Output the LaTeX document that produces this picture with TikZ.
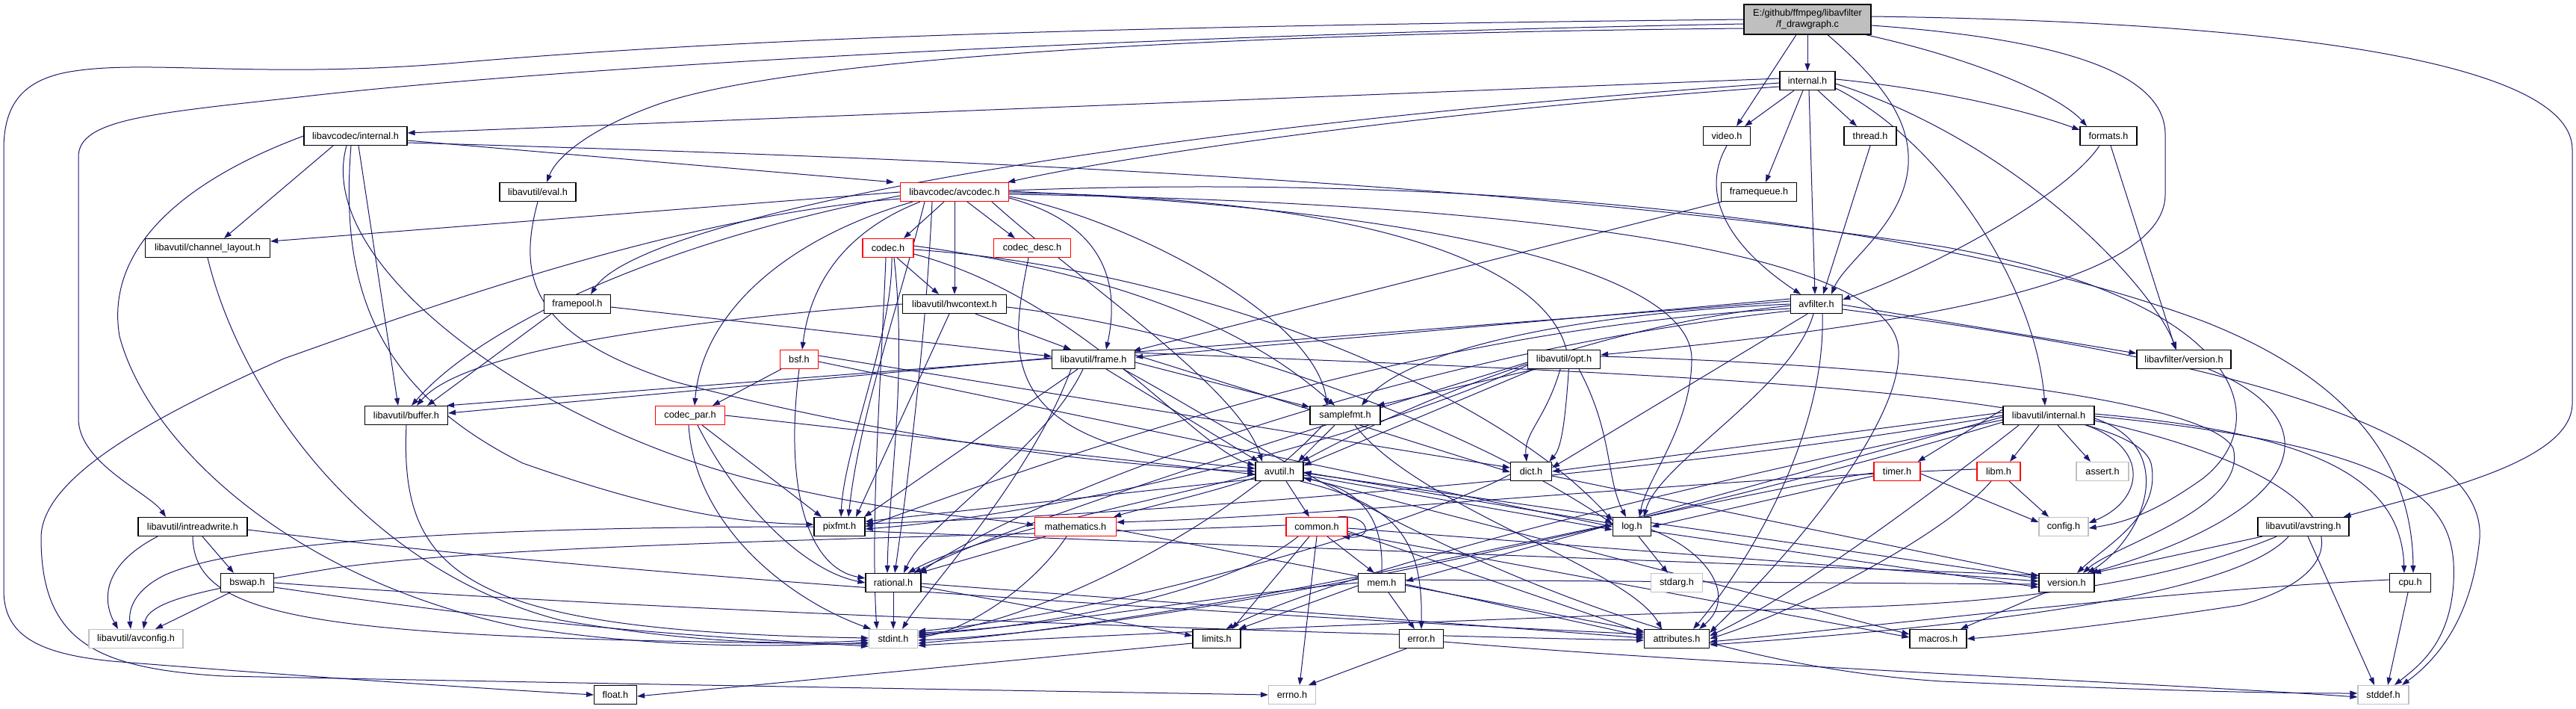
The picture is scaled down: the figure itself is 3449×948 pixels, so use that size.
\documentclass[tikz,border=0pt]{standalone}
\usepackage{fontspec}
\setmainfont{Liberation Sans}
\usetikzlibrary{arrows.meta}
\pgfdeclarelayer{edgelayer}
\pgfsetlayers{edgelayer,main}
\definecolor{edgec}{HTML}{191970}
\definecolor{rootgray}{HTML}{BFBFBF}
\definecolor{sysgray}{HTML}{C0C0C0}
\tikzset{
  nd/.style={draw=black, line width=1.2pt, fill=white, inner sep=0pt, minimum height=25pt, font=\fontsize{12.7pt}{15pt}\selectfont},
  ndred/.style={nd, draw=red},
  ndgray/.style={nd, draw=sysgray},
  e/.style={draw=edgec, line width=1pt, -{Triangle[length=10pt,width=7pt]}}
}
\begin{document}
\begin{tikzpicture}[x=1pt,y=1pt]
\begin{pgfonlayer}{edgelayer}
\path[use as bounding box, fill=white] (0,0) rectangle (3449,-948);
\end{pgfonlayer}
% nodes
\node[nd,fill=rootgray,minimum width=170pt,minimum height=40pt,align=center] (root) at (2420,-26) {E:/github/ffmpeg/libavfilter\\/f\_drawgraph.c};
\node[nd,minimum width=74pt] (ifint) at (2420,-108) {internal.h};
\node[nd,minimum width=138pt] (lacint) at (476,-182) {libavcodec/internal.h};
\node[nd,minimum width=63pt] (video) at (2312,-182) {video.h};
\node[nd,minimum width=70pt] (thread) at (2504,-182) {thread.h};
\node[nd,minimum width=76pt] (formats) at (2823,-182) {formats.h};
\node[nd,minimum width=102pt] (eval) at (720,-257) {libavutil/eval.h};
\node[ndred,minimum width=145pt] (avcodec) at (1278,-257) {libavcodec/avcodec.h};
\node[nd,minimum width=101pt] (fqueue) at (2355,-257) {framequeue.h};
\node[nd,minimum width=167pt] (chl) at (278,-332) {libavutil/channel\_layout.h};
\node[ndred,minimum width=68pt] (codec) at (1189,-332) {codec.h};
\node[ndred,minimum width=103pt] (cdesc) at (1382,-332) {codec\_desc.h};
\node[nd,minimum width=139pt] (hwctx) at (1278,-407) {libavutil/hwcontext.h};
\node[nd,minimum width=89pt] (fpool) at (773,-407) {framepool.h};
\node[nd,minimum width=69pt] (avfilter) at (2432,-407) {avfilter.h};
\node[nd,minimum width=111pt] (frame) at (1464,-481) {libavutil/frame.h};
\node[ndred,minimum width=51pt] (bsf) at (1070,-481) {bsf.h};
\node[nd,minimum width=97pt] (opt) at (2094,-481) {libavutil/opt.h};
\node[nd,minimum width=126pt] (lfver) at (2924,-481) {libavfilter/version.h};
\node[nd,minimum width=111pt] (buffer) at (544,-556) {libavutil/buffer.h};
\node[nd,minimum width=94pt] (sfmt) at (1801,-556) {samplefmt.h};
\node[ndred,minimum width=93pt] (cpar) at (924,-556) {codec\_par.h};
\node[nd,minimum width=122pt] (luint) at (2743,-556) {libavutil/internal.h};
\node[nd,minimum width=64pt] (avutil) at (1713,-631) {avutil.h};
\node[nd,minimum width=55pt] (dict) at (2050,-631) {dict.h};
\node[ndred,minimum width=62pt] (timer) at (2540,-631) {timer.h};
\node[ndred,minimum width=58pt] (libm) at (2676,-631) {libm.h};
\node[ndgray,minimum width=70pt] (assert) at (2815,-631) {assert.h};
\node[nd,minimum width=68pt] (pixfmt) at (1124,-705) {pixfmt.h};
\node[ndred,minimum width=109pt] (math) at (1440,-705) {mathematics.h};
\node[nd,minimum width=51pt] (log) at (2185,-705) {log.h};
\node[ndgray,minimum width=66pt] (config) at (2763,-705) {config.h};
\node[nd,minimum width=146pt] (irw) at (258,-705) {libavutil/intreadwrite.h};
\node[ndred,minimum width=82pt] (common) at (1763,-705) {common.h};
\node[nd,minimum width=122pt] (avstring) at (3084,-705) {libavutil/avstring.h};
\node[nd,minimum width=71pt] (bswap) at (331,-780) {bswap.h};
\node[nd,minimum width=74pt] (rational) at (1196,-780) {rational.h};
\node[nd,minimum width=63pt] (mem) at (1850,-780) {mem.h};
\node[ndgray,minimum width=69pt] (stdarg) at (2245,-780) {stdarg.h};
\node[nd,minimum width=74pt] (version) at (2767,-780) {version.h};
\node[nd,minimum width=55pt] (cpu) at (3227,-780) {cpu.h};
\node[ndgray,minimum width=126pt] (avconfig) at (182,-855) {libavutil/avconfig.h};
\node[ndgray,minimum width=65pt] (stdint) at (1196,-855) {stdint.h};
\node[nd,minimum width=64pt] (limits) at (1629,-855) {limits.h};
\node[nd,minimum width=59pt] (error) at (1903,-855) {error.h};
\node[nd,minimum width=87pt] (attr) at (2245,-855) {attributes.h};
\node[nd,minimum width=76pt] (macros) at (2595,-855) {macros.h};
\node[nd,minimum width=57pt] (float) at (824,-930) {float.h};
\node[ndgray,minimum width=63pt] (errno) at (1730,-930) {errno.h};
\node[ndgray,minimum width=68pt] (stddef) at (3191,-930) {stddef.h};
\begin{pgfonlayer}{edgelayer}
% root
\draw[e] (root.west) .. controls (1500,-35) and (1000,-50) .. (600,-85) .. controls (350,-105) and (200,-80) .. (100,-95) .. controls (30,-105) and (5,-140) .. (5,-200) -- (5,-790) .. controls (5,-850) and (50,-875) .. (150,-885) .. controls (400,-905) and (650,-922) .. (float.west);
\draw[e] ([yshift=-6pt]root.west) .. controls (1400,-50) and (700,-95) .. (400,-130) .. controls (200,-152) and (105,-160) .. (105,-210) -- (105,-560) .. controls (105,-620) and (200,-660) .. ([xshift=-36pt]irw.north);
\draw[e] ([yshift=-12pt]root.west) .. controls (1600,-45) and (1050,-80) .. (880,-140) .. controls (790,-172) and (745,-210) .. ([xshift=12pt]eval.north);
\draw[e] ([xshift=-15pt]root.south) -- ([xshift=13pt]video.north);
\draw[e] (root) -- (ifint);
\draw[e] ([xshift=27pt]root.south) .. controls (2520,-110) and (2558,-160) .. (2555,-220) .. controls (2550,-300) and (2470,-350) .. ([xshift=20pt]avfilter.north);
\draw[e] ([xshift=78pt]root.south) .. controls (2650,-80) and (2760,-130) .. ([xshift=-29pt]formats.north);
\draw[e] ([yshift=-8pt]root.east) .. controls (2800,-55) and (2899,-110) .. (2899,-180) -- (2899,-260) .. controls (2899,-390) and (2500,-440) .. ([yshift=6pt]opt.east);
\draw[e] ([yshift=4pt]root.east) .. controls (3100,-30) and (3444,-90) .. (3444,-200) -- (3444,-540) .. controls (3444,-620) and (3250,-660) .. ([xshift=-8pt]avstring.north east);
% internal.h
\draw[e] ([xshift=-18pt]ifint.south) -- ([xshift=24pt]video.north);
\draw[e] ([xshift=14pt]ifint.south) -- ([xshift=-18pt]thread.north);
\draw[e] ([xshift=-6pt]ifint.south) -- ([xshift=9pt]fqueue.north);
\draw[e] ([xshift=2pt]ifint.south) -- ([xshift=-2pt]avfilter.north);
\draw[e] ([yshift=2pt]ifint.east) .. controls (2600,-120) and (2720,-150) .. ([yshift=8pt]formats.west);
\draw[e] ([yshift=-4pt]ifint.east) .. controls (2700,-190) and (2880,-380) .. ([xshift=-10pt]lfver.north);
\draw[e] ([yshift=-10pt]ifint.east) .. controls (2600,-190) and (2725,-380) .. ([xshift=-5pt]luint.north);
\draw[e] ([yshift=3pt]ifint.west) -- ([yshift=4pt]lacint.east);
\draw[e] ([yshift=-8pt]ifint.west) .. controls (1900,-150) and (1500,-210) .. ([xshift=-2pt]avcodec.north east);
\draw[e] ([yshift=-3pt]ifint.west) .. controls (1400,-180) and (850,-300) .. ([xshift=18pt]fpool.north);
\draw[e] (video.south) .. controls (2280,-250) and (2300,-320) .. ([xshift=-21pt]avfilter.north);
\draw[e] (thread.south) -- ([xshift=9pt]avfilter.north);
\draw[e] ([xshift=-12pt]formats.south) .. controls (2760,-270) and (2560,-370) .. ([yshift=6pt]avfilter.east);
\draw[e] ([xshift=3pt]formats.south) -- ([xshift=-11pt]lfver.north);
\draw[e] ([xshift=-50pt]fqueue.south) -- ([xshift=-3pt,yshift=-2pt]frame.north east);
% libavcodec/internal.h
\draw[e] ([xshift=-30pt]lacint.south) -- ([xshift=22pt]chl.north);
\draw[e] ([xshift=4pt]lacint.south) -- ([xshift=-11pt]buffer.north);
\draw[e] ([xshift=-12pt]lacint.south) .. controls (420,-350) and (700,-560) .. (1000,-640) .. controls (1200,-690) and (1300,-690) .. ([yshift=2pt]math.west);
\draw[e] ([xshift=-6pt]lacint.south) .. controls (455,-380) and (500,-520) .. (700,-620) .. controls (900,-690) and (1000,-700) .. ([yshift=3pt]pixfmt.west);
\draw[e] (lacint.west) .. controls (250,-240) and (140,-330) .. (160,-450) .. controls (200,-600) and (400,-780) .. (700,-840) .. controls (900,-870) and (1050,-865) .. ([yshift=-5pt]stdint.west);
\draw[e] ([yshift=-6pt]lacint.east) -- ([xshift=-8pt]avcodec.north west);
\draw[e] ([yshift=-9pt]lacint.east) .. controls (1200,-210) and (2000,-240) .. (2600,-330) .. controls (3000,-400) and (3050,-560) .. (2950,-640) .. controls (2880,-690) and (2840,-700) .. ([yshift=-2pt]config.east);
% avcodec.h
\draw[e] ([xshift=-14pt]avcodec.south) -- ([xshift=21pt]codec.north);
\draw[e] ([xshift=17pt]avcodec.south) -- ([xshift=-23pt]cdesc.north);
\draw[e] (avcodec.south) -- (hwctx.north);
\draw[e] ([yshift=-8pt]avcodec.east) .. controls (1480,-300) and (1500,-380) .. ([xshift=17pt]frame.north);
\draw[e] ([xshift=-46pt]avcodec.south) .. controls (1130,-310) and (1085,-380) .. ([xshift=4pt]bsf.north);
\draw[e] ([xshift=-56pt]avcodec.south) .. controls (1050,-320) and (940,-420) .. ([xshift=6pt]cpar.north);
\draw[e] ([xshift=-40pt]avcodec.south) .. controls (1200,-420) and (1150,-560) .. ([xshift=12pt]pixfmt.north);
\draw[e] ([xshift=-30pt]avcodec.south) .. controls (1240,-450) and (1215,-650) .. ([xshift=2pt]rational.north);
\draw[e] (avcodec.west) -- ([yshift=9pt]chl.east);
\draw[e] ([yshift=-5pt]avcodec.west) .. controls (900,-320) and (650,-430) .. ([xshift=7pt]buffer.north);
\draw[e] ([yshift=-9pt]avcodec.west) .. controls (900,-290) and (550,-420) .. (380,-480) .. controls (200,-560) and (55,-640) .. (55,-720) .. controls (55,-860) and (130,-895) .. (300,-905) .. controls (800,-915) and (1400,-925) .. (errno.west);
\draw[e] ([yshift=-6pt]avcodec.east) .. controls (1500,-290) and (1760,-420) .. ([xshift=-24pt]sfmt.north);
\draw[e] ([yshift=-3pt]avcodec.east) .. controls (2000,-270) and (2540,-330) .. (2542,-470) .. controls (2545,-560) and (2420,-720) .. ([yshift=8pt]attr.east);
\draw[e] ([yshift=2pt]avcodec.east) .. controls (2000,-230) and (2600,-300) .. (2950,-430) .. controls (3180,-520) and (3230,-650) .. ([xshift=4pt]cpu.north);
\draw[e] ([yshift=-1pt]avcodec.east) .. controls (1900,-265) and (2110,-380) .. (2100,-500) .. controls (2095,-570) and (2090,-600) .. ([xshift=-4pt]dict.north east);
\draw[e] ([yshift=1pt]avcodec.east) .. controls (2000,-285) and (2265,-380) .. (2265,-480) .. controls (2265,-570) and (2205,-640) .. ([xshift=10pt]log.north);
\draw[e] ([xshift=50pt]avcodec.south) .. controls (1450,-380) and (1660,-520) .. ([xshift=-23pt]avutil.north);
% codec.h
\draw[e] ([xshift=12pt]codec.south) -- ([xshift=-21pt]hwctx.north);
\draw[e] ([xshift=-3pt]codec.south) .. controls (1180,-500) and (1165,-700) .. ([xshift=-22pt]stdint.north);
\draw[e] ([yshift=-8pt]codec.east) .. controls (1450,-400) and (1600,-600) .. ([yshift=8pt]avutil.west);
\draw[e] ([yshift=-2pt]codec.east) .. controls (1600,-360) and (2000,-520) .. ([yshift=8pt]log.west);
\draw[e] ([xshift=5pt]codec.south) .. controls (1195,-450) and (1130,-600) .. ([xshift=2pt]pixfmt.north);
\draw[e] ([xshift=8pt]codec.south) .. controls (1215,-500) and (1190,-650) .. ([xshift=-8pt]rational.north);
\draw[e] ([yshift=3pt]codec.east) .. controls (1450,-360) and (1650,-420) .. ([xshift=-14pt]sfmt.north);
\draw[e] ([xshift=-5pt]cdesc.south) .. controls (1350,-480) and (1330,-600) .. ([yshift=4pt]avutil.west);
% hwcontext.h
\draw[e] (hwctx.west) .. controls (900,-430) and (620,-470) .. ([xshift=14pt]buffer.north);
\draw[e] ([xshift=28pt]hwctx.south) -- ([xshift=-30pt]frame.north);
\draw[e] ([yshift=-4pt]hwctx.east) .. controls (1600,-440) and (1950,-560) .. ([yshift=4pt]log.west);
\draw[e] ([xshift=-7pt]hwctx.south) -- ([xshift=22pt]pixfmt.north);
% bsf.h
\draw[e] ([xshift=-24pt]bsf.south) -- ([xshift=30pt]cpar.north);
\draw[e] (bsf.south) .. controls (1050,-650) and (1080,-760) .. ([yshift=6pt]rational.west);
\draw[e] ([yshift=5pt]bsf.east) -- ([yshift=5pt]dict.west);
\draw[e] ([yshift=-3pt]bsf.east) -- (log.west);
% codec_par.h
\draw[e] ([xshift=-2pt]cpar.south) .. controls (930,-700) and (1050,-800) .. ([xshift=-30pt]stdint.north);
\draw[e] ([xshift=10pt]cpar.south) .. controls (990,-680) and (1080,-765) .. (rational.west);
\draw[e] ([xshift=16pt]cpar.south) -- ([xshift=-24pt]pixfmt.north);
\draw[e] (cpar.east) -- ([yshift=-4pt]avutil.west);
% frame.h
\draw[e] ([yshift=2pt]frame.west) -- ([yshift=3pt]buffer.east);
\draw[e] ([xshift=17pt]frame.south) -- ([xshift=-28pt]avutil.north);
\draw[e] ([yshift=6pt]frame.east) -- ([yshift=-1pt]dict.west);
\draw[e] ([xshift=-14pt]frame.south) .. controls (1400,-600) and (1240,-700) .. ([xshift=14pt]rational.north);
\draw[e] ([yshift=-4pt]frame.east) -- ([yshift=-2pt]sfmt.north west);
\draw[e] ([xshift=-21pt]frame.south) -- ([xshift=33pt]pixfmt.north);
\draw[e] ([xshift=40pt]frame.south) .. controls (1700,-600) and (2100,-880) .. (2600,-912) .. controls (2900,-925) and (3050,-928) .. ([yshift=2pt]stddef.west);
\draw[e] ([xshift=-30pt]frame.south) .. controls (1380,-640) and (1240,-790) .. ([xshift=12pt]stdint.north);
\draw[e] ([yshift=9pt]frame.east) .. controls (2200,-500) and (2850,-520) .. (2880,-620) .. controls (2895,-690) and (2820,-730) .. ([xshift=14pt]version.north);
% misc upper
\draw[e] (eval.south) .. controls (690,-380) and (720,-450) .. (900,-510) .. controls (1200,-590) and (1500,-625) .. (avutil.west);
\draw[e] ([xshift=-35pt]fpool.south) -- ([xshift=28pt]buffer.north);
\draw[e] ([yshift=-4pt]fpool.east) -- ([yshift=4pt]frame.west);
\draw[e] (chl.south) .. controls (320,-520) and (480,-760) .. (750,-830) .. controls (950,-865) and (1080,-862) .. ([yshift=-2pt]stdint.west);
\draw[e] (buffer.south) .. controls (535,-770) and (620,-845) .. ([yshift=1pt]stdint.west);
% intreadwrite / bswap
\draw[e] ([xshift=-47pt]irw.south) .. controls (130,-760) and (140,-810) .. ([xshift=-24pt]avconfig.north);
\draw[e] ([xshift=13pt]irw.south) -- ([xshift=-18pt]bswap.north);
\draw[e] (irw.south) .. controls (260,-830) and (420,-855) .. ([yshift=-7pt]stdint.west);
\draw[e] ([yshift=-4pt]irw.east) .. controls (900,-780) and (1800,-830) .. ([yshift=6pt]attr.west);
\draw[e] ([xshift=-23pt]bswap.south) -- ([xshift=26pt]avconfig.north);
\draw[e] ([yshift=-6pt]bswap.east) .. controls (700,-835) and (900,-850) .. ([yshift=-10pt]stdint.west);
\draw[e] (bswap.east) .. controls (900,-820) and (1800,-850) .. ([yshift=-2pt]attr.west);
% samplefmt
\draw[e] ([xshift=-14pt]sfmt.south) -- ([xshift=25pt]avutil.north);
\draw[e] ([xshift=-30pt]sfmt.south) .. controls (1650,-700) and (1400,-830) .. ([yshift=4pt]stdint.east);
\draw[e] ([xshift=13pt]sfmt.south) .. controls (1900,-680) and (2180,-760) .. ([xshift=-20pt]attr.north);
% opt.h
\draw[e] ([yshift=-4pt]opt.west) .. controls (1800,-560) and (1350,-700) .. ([xshift=-10pt]rational.north east);
\draw[e] ([xshift=-40pt]opt.south) -- ([yshift=8pt]avutil.east);
\draw[e] ([xshift=-5pt]opt.south) .. controls (2070,-560) and (2040,-580) .. ([xshift=-6pt]dict.north);
\draw[e] ([xshift=20pt]opt.south) .. controls (2160,-580) and (2150,-640) .. ([xshift=-8pt]log.north);
\draw[e] ([yshift=-8pt]opt.west) .. controls (1800,-600) and (1400,-690) .. ([yshift=-3pt]pixfmt.east);
\draw[e] ([xshift=-38pt]opt.south) -- ([xshift=-5pt]sfmt.north east);
\draw[e] ([yshift=4pt]opt.east) .. controls (2600,-490) and (2960,-540) .. (2990,-600) .. controls (3010,-680) and (2830,-730) .. ([xshift=22pt]version.north);
% avfilter.h
\draw[e] ([xshift=8pt]avfilter.south) .. controls (2445,-600) and (2320,-780) .. ([xshift=22pt]attr.north);
\draw[e] ([yshift=-2pt]avfilter.west) .. controls (2100,-440) and (1850,-560) .. ([xshift=30pt]avutil.north);
\draw[e] ([yshift=4pt]avfilter.west) -- ([xshift=-2pt]buffer.north east);
\draw[e] ([xshift=-12pt]avfilter.south) -- ([yshift=5pt]dict.east);
\draw[e] ([yshift=7pt]avfilter.west) -- ([yshift=3pt]frame.east);
\draw[e] ([xshift=-4pt]avfilter.south) .. controls (2400,-520) and (2220,-620) .. ([xshift=16pt]log.north);
\draw[e] (avfilter.west) .. controls (2100,-420) and (1880,-470) .. ([xshift=22pt]sfmt.north);
\draw[e] ([yshift=-6pt]avfilter.west) .. controls (1900,-440) and (1450,-600) .. (pixfmt.east);
\draw[e] ([yshift=-9pt]avfilter.west) .. controls (1900,-470) and (1400,-650) .. ([xshift=-3pt]rational.north east);
\draw[e] ([yshift=-1pt]avfilter.east) -- ([yshift=8pt]lfver.west);
\draw[e] ([yshift=-7pt]avfilter.east) .. controls (2900,-470) and (3330,-560) .. (3320,-720) .. controls (3310,-830) and (3260,-885) .. ([xshift=25pt]stddef.north);
% libavutil/internal.h
\draw[e] ([xshift=-13pt]luint.south) -- ([xshift=15pt]libm.north);
\draw[e] ([xshift=12pt]luint.south) -- ([xshift=-16pt]assert.north);
\draw[e] ([xshift=50pt]luint.south) .. controls (2880,-600) and (2870,-670) .. ([yshift=5pt]config.east);
\draw[e] ([yshift=-4pt]luint.east) .. controls (2920,-600) and (2870,-720) .. ([xshift=28pt]version.north);
\draw[e] ([yshift=2pt]luint.east) .. controls (3100,-580) and (3215,-640) .. ([xshift=-8pt]cpu.north);
\draw[e] ([yshift=-1pt]luint.east) .. controls (3250,-600) and (3290,-680) .. (3285,-780) .. controls (3280,-860) and (3240,-890) .. ([xshift=15pt]stddef.north);
\draw[e] ([yshift=-7pt]luint.east) .. controls (3150,-640) and (3180,-760) .. (3000,-810) .. controls (2800,-840) and (2700,-850) .. (macros.east);
\draw[e] ([xshift=-40pt]luint.south) .. controls (2600,-650) and (2400,-800) .. ([yshift=4pt]attr.east);
\draw[e] ([yshift=-2pt]luint.west) -- ([yshift=2pt]mem.east);
\draw[e] ([yshift=4pt]luint.west) -- (dict.east);
\draw[e] ([yshift=8pt]luint.west) -- ([xshift=-4pt]timer.north east);
\draw[e] ([yshift=-6pt]luint.west) .. controls (2300,-640) and (1800,-760) .. ([xshift=-20pt]limits.north east);
\draw[e] ([yshift=-9pt]luint.west) .. controls (2300,-680) and (1600,-840) .. ([yshift=-2pt]stdint.east);
\draw[e] (luint.west) .. controls (2200,-640) and (1500,-690) .. ([yshift=4pt]pixfmt.east);
% avutil.h
\draw[e] ([xshift=9pt]avutil.south) -- ([xshift=-10pt]common.north);
\draw[e] ([xshift=28pt]avutil.south) .. controls (1870,-675) and (1905,-720) .. (error.north);
\draw[e] ([yshift=-4pt]avutil.west) .. controls (1500,-680) and (1300,-720) .. ([xshift=-18pt]rational.north east);
\draw[e] ([yshift=-2pt]avutil.east) -- ([yshift=6pt]version.west);
\draw[e] ([yshift=-8pt]avutil.east) -- ([yshift=6pt]macros.west);
\draw[e] ([yshift=-8pt]avutil.west) .. controls (1620,-660) and (1530,-680) .. ([xshift=-4pt]math.north east);
\draw[e] ([yshift=-5pt]avutil.east) -- ([yshift=-4pt]log.west);
\draw[e] ([yshift=-10pt]avutil.west) -- ([yshift=7pt]pixfmt.east);
% common.h
\draw[e] ([xshift=28pt]common.north) .. controls (1835,-688) and (1840,-722) .. ([xshift=34pt]common.south);
\draw[e] ([xshift=14pt]common.south) -- ([xshift=-10pt]mem.north);
\draw[e] (common.south) -- ([xshift=10pt]errno.north);
\draw[e] ([xshift=-10pt]common.south) -- ([xshift=-12pt]limits.north east);
\draw[e] ([xshift=-25pt]common.south) .. controls (1650,-790) and (1400,-840) .. ([yshift=6pt]stdint.east);
\draw[e] ([yshift=-6pt]common.east) -- ([yshift=8pt]attr.west);
\draw[e] ([yshift=-9pt]common.east) -- ([yshift=2pt]macros.west);
\draw[e] ([yshift=-2pt]common.east) -- ([yshift=2pt]version.west);
\draw[e] ([yshift=2pt]common.west) .. controls (1300,-720) and (700,-725) .. (450,-760) .. controls (300,-785) and (200,-800) .. ([xshift=10pt]avconfig.north);
% mem.h
\draw[e] (mem.north) .. controls (1853,-690) and (1820,-655) .. ([yshift=-9pt]avutil.east);
\draw[e] ([xshift=9pt]mem.south) -- ([xshift=-9pt]error.north);
\draw[e] ([yshift=-2pt]mem.east) -- ([yshift=3pt]attr.west);
\draw[e] ([yshift=4pt]mem.east) -- ([yshift=-2pt]version.west);
\draw[e] ([yshift=-4pt]mem.west) -- ([xshift=-3pt]limits.north east);
\draw[e] (mem.west) .. controls (1600,-800) and (1400,-840) .. ([yshift=8pt]stdint.east);
% log.h
\draw[e] ([xshift=9pt]log.south) -- ([xshift=-12pt]stdarg.north);
\draw[e] ([yshift=4pt]log.west) -- ([yshift=-1pt]avutil.east);
\draw[e] ([yshift=-4pt]log.east) .. controls (2290,-740) and (2325,-800) .. ([xshift=30pt]attr.north);
\draw[e] ([yshift=-6pt]log.east) -- ([yshift=-6pt]version.west);
% dict.h, pixfmt.h, mathematics.h, rational.h
\draw[e] ([yshift=-4pt]dict.west) .. controls (1900,-700) and (1500,-820) .. ([yshift=10pt]stdint.east);
\draw[e] ([yshift=-6pt]dict.east) -- ([yshift=9pt]version.west);
\draw[e] (pixfmt.west) .. controls (700,-705) and (330,-720) .. (220,-770) .. controls (180,-790) and (172,-815) .. ([xshift=-7pt]avconfig.north);
\draw[e] ([yshift=-6pt]pixfmt.east) -- ([yshift=10pt]version.west);
\draw[e] ([xshift=-40pt]math.south) -- ([xshift=-3pt]rational.north east);
\draw[e] ([xshift=-12pt]math.south) .. controls (1380,-790) and (1290,-845) .. ([yshift=2pt]stdint.east);
\draw[e] ([yshift=-4pt]math.east) -- ([yshift=10pt]attr.west);
\draw[e] (rational) -- (stdint);
\draw[e] ([yshift=-5pt]rational.east) -- ([yshift=4pt]limits.west);
\draw[e] ([yshift=-1pt]rational.east) -- ([yshift=1pt]attr.west);
% timer.h, libm.h
\draw[e] ([yshift=-3pt]timer.east) -- ([yshift=6pt]config.west);
\draw[e] ([yshift=-6pt]timer.west) -- (log.east);
\draw[e] ([yshift=-2pt]timer.west) .. controls (2300,-660) and (1700,-820) .. ([yshift=-6pt]stdint.east);
\draw[e] ([xshift=14pt]libm.south) -- ([xshift=-20pt]config.north);
\draw[e] ([xshift=-10pt]libm.south) .. controls (2600,-720) and (2400,-820) .. (attr.east);
\draw[e] ([yshift=3pt]libm.west) .. controls (2300,-640) and (1800,-690) .. ([yshift=6pt]math.east);
% version, cpu, avstring, lfver, error, limits
\draw[e] ([xshift=-28pt]version.south) -- ([xshift=30pt]macros.north);
\draw[e] ([xshift=-3pt]cpu.south) -- ([xshift=6pt]stddef.north);
\draw[e] ([yshift=4pt]cpu.west) .. controls (2900,-790) and (2500,-840) .. ([yshift=-4pt]attr.east);
\draw[e] ([xshift=-55pt]avstring.south) -- ([xshift=36pt]version.north);
\draw[e] ([xshift=-36pt]avstring.south) .. controls (2900,-780) and (2700,-805) .. (2500,-812) .. controls (2000,-828) and (1500,-848) .. ([yshift=-9pt]stdint.east);
\draw[e] ([xshift=-20pt]avstring.south) .. controls (3000,-790) and (2700,-835) .. ([yshift=-8pt]attr.east);
\draw[e] ([xshift=6pt]avstring.south) -- ([xshift=-12pt]stddef.north);
\draw[e] ([xshift=33pt]lfver.south) .. controls (3120,-560) and (3100,-680) .. ([xshift=32pt]version.north);
\draw[e] ([xshift=-20pt]error.south) -- ([xshift=22pt]errno.north);
\draw[e] ([yshift=-4pt]error.east) .. controls (2300,-890) and (2900,-915) .. ([yshift=-3pt]stddef.west);
\draw[e] ([yshift=-6pt]limits.west) -- ([yshift=-2pt]float.east);
\end{pgfonlayer}
\end{tikzpicture}
\end{document}
